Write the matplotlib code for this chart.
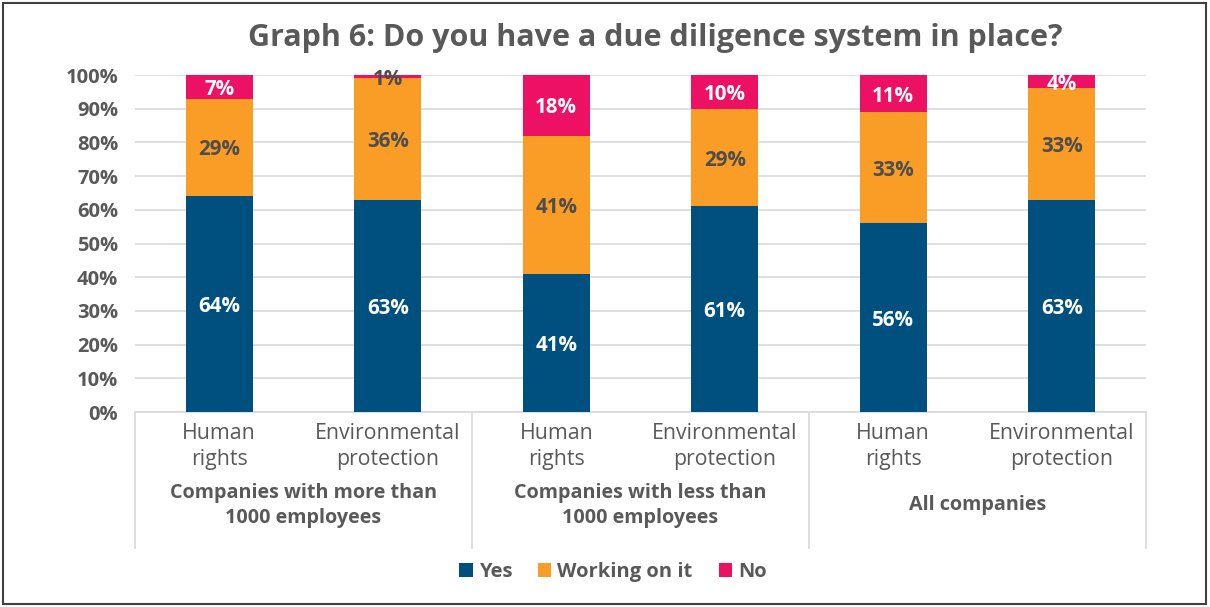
import matplotlib
matplotlib.use("Agg")
import matplotlib.pyplot as plt
from matplotlib.patches import Rectangle, Patch
import matplotlib.transforms as mtransforms
import numpy as np

plt.rcParams['font.family'] = ['Open Sans', 'DejaVu Sans']

categories = ["Human\nrights", "Environmental\nprotection",
              "Human\nrights", "Environmental\nprotection",
              "Human\nrights", "Environmental\nprotection"]
groups = ["Companies with more than\n1000 employees",
          "Companies with less than\n1000 employees",
          "All companies"]
series_names = ["Yes", "Working on it", "No"]
yes = [64, 63, 41, 61, 56, 63]
working = [29, 36, 41, 29, 33, 33]
no = [7, 1, 18, 10, 11, 4]
yticks = [0, 10, 20, 30, 40, 50, 60, 70, 80, 90, 100]

colors = ["#00507F", "#F99D27", "#EC1163"]
label_colors = ["white", "#4D4D4D", "white"]
grey = "#595959"
W8 = "bold"

W, H = 1210, 607
fig = plt.figure(figsize=(W / 100, H / 100), dpi=100)
ax = fig.add_axes([135 / W, (H - 412) / H, (1146 - 135) / W, (412 - 75) / H])

x = np.arange(len(categories))
bottom = np.zeros(len(categories))
series = [yes, working, no]
for vals, col, lc, name in zip(series, colors, label_colors, series_names):
    vals = np.array(vals, dtype=float)
    ax.bar(x, vals, 0.4, bottom=bottom, color=col, label=name, zorder=3)
    for xi, b, v in zip(x, bottom, vals):
        c = lc
        if name == "No" and v <= 1:
            c = "#4D4D4D"
        ax.text(xi, b + v / 2, f"{int(v)}%", ha="center", va="center_baseline",
                fontsize=14.8, fontweight=W8, color=c, zorder=4)
    bottom += vals

ax.set_xlim(-0.5, len(categories) - 0.5)
ax.set_ylim(0, 100)
ax.set_yticks(yticks)
ax.set_yticklabels([f"{t}%" for t in yticks], fontsize=14.5, fontweight=W8, color=grey)
ax.tick_params(axis="y", length=0, pad=12)
ax.set_xticks([])
ax.grid(axis="y", color="#D9D9D9", linewidth=1.2, zorder=0)
for s in ["top", "right", "left"]:
    ax.spines[s].set_visible(False)
ax.spines["bottom"].set_color("#D9D9D9")
ax.spines["bottom"].set_linewidth(1.2)

trans = mtransforms.blended_transform_factory(ax.transData, ax.transAxes)
for xi, cat in zip(x, categories):
    ax.text(xi, -0.032, cat, transform=trans, ha="center", va="top",
            fontsize=15.3, color=grey, linespacing=1.32)
for gi, g in enumerate(groups):
    ax.text(2 * gi + 0.5, -0.277, g, transform=trans, ha="center", va="center",
            fontsize=14.2, fontweight=W8, color=grey, linespacing=1.3)
for sx in [-0.5, 1.5, 3.5, 5.5]:
    ax.plot([sx, sx], [0, -0.405], transform=trans, color="#D9D9D9",
            linewidth=1.2, clip_on=False)

fig.text(655 / W, 1 - 38 / H, "Graph 6: Do you have a due diligence system in place?",
         ha="center", va="center", fontsize=22, fontweight="bold", color=grey)

handles = [Patch(facecolor=c, label=n) for c, n in zip(colors, series_names)]
leg = fig.legend(handles=handles, loc="center", bbox_to_anchor=(613 / W, 1 - 572 / H),
                 ncol=3, frameon=False, fontsize=14.5, handlelength=0.65, handleheight=0.65,
                 handletextpad=0.3, columnspacing=1.3)
for t in leg.get_texts():
    t.set_color(grey)
    t.set_fontweight(W8)

fig.patches.append(Rectangle((3 / W, 3 / H), (W - 7) / W, (H - 6) / H,
                             transform=fig.transFigure, fill=False,
                             edgecolor="#404040", linewidth=1.5))

fig.savefig("out.png", dpi=100)
